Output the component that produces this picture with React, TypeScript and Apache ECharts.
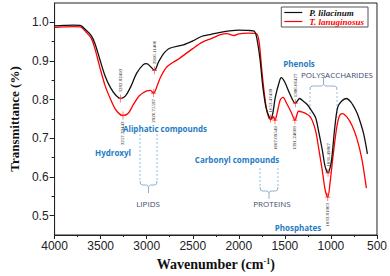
import React, { useEffect, useRef } from "react";
import * as echarts from "echarts";

const wnP = [4000,3900,3800,3720,3660,3600,3560,3510,3450,3390,3330,3282,3230,3170,3110,3040,3000,2960,2916,2870,2820,2750,2600,2500,2400,2300,2200,2100,2000,1900,1840,1810,1770,1740,1705,1670,1653,1630,1604,1562,1540,1500,1448,1386,1340,1300,1260,1220,1167,1135,1094,1062,1031,1005,990,958,927,885,833,781,729,698,646,604];
const trP = [0.991,0.992,0.993,0.992,0.98,0.965,0.944,0.905,0.86,0.83,0.81,0.803,0.81,0.835,0.868,0.89,0.893,0.886,0.876,0.898,0.918,0.933,0.942,0.952,0.964,0.969,0.974,0.978,0.98,0.979,0.978,0.965,0.905,0.835,0.78,0.755,0.751,0.766,0.806,0.845,0.857,0.845,0.816,0.791,0.803,0.796,0.788,0.775,0.754,0.72,0.67,0.626,0.611,0.628,0.65,0.728,0.78,0.796,0.803,0.793,0.772,0.754,0.713,0.66];

const wnT = [4000,3900,3800,3720,3660,3600,3560,3510,3450,3390,3330,3257,3200,3150,3080,3000,2960,2926,2880,2850,2780,2650,2500,2400,2300,2200,2130,2050,2000,1900,1810,1780,1750,1720,1690,1653,1625,1607,1580,1550,1520,1480,1430,1391,1350,1310,1271,1219,1167,1135,1094,1062,1034,1010,979,937,906,875,823,771,719,667,615];
const trT = [0.987,0.988,0.989,0.988,0.975,0.958,0.93,0.885,0.835,0.8,0.772,0.759,0.765,0.785,0.81,0.823,0.824,0.817,0.84,0.858,0.885,0.906,0.932,0.948,0.958,0.968,0.971,0.966,0.97,0.972,0.971,0.95,0.875,0.81,0.765,0.748,0.756,0.747,0.77,0.8,0.806,0.79,0.767,0.747,0.77,0.768,0.764,0.754,0.72,0.677,0.617,0.566,0.548,0.584,0.65,0.728,0.759,0.764,0.754,0.733,0.70,0.65,0.571];

const peakWnP = [3282.82493, 2916.11406, 1653.47439, 1386.66477, 1031.49867];
const peakTrP = [0.803, 0.876, 0.751, 0.791, 0.611];
const peakWnT = [3257.29443, 2926.75597, 1607.09549, 1391.24668, 1033.81963];
const peakTrT = [0.759, 0.817, 0.747, 0.747, 0.548];

const seriesNames = ["P. lilacinum", "T. lanuginosus"];
const xTicks = [4000, 3500, 3000, 2500, 2000, 1500, 1000, 500];
const yTicks = [0.5, 0.6, 0.7, 0.8, 0.9, 1.0];
const yMinorTicks = [0.55, 0.65, 0.75, 0.85, 0.95];

const BLUE = "#1f7cc4";
const SLATE = "#3d4b6b";
const DASH = "#8cc4e4";
const BRACE = "#8fb0cc";

const plusSymbol = "path://M4,0h1v9h-1z M0,4h9v1h-9z";

function peakPoints(wn: number[], tr: number[], above: boolean) {
  return wn.map((w, i) => ({
    coord: [w, tr[i]],
    name: w.toFixed(5),
    label: {
      show: true,
      formatter: "{b}",
      position: above ? "top" : "bottom",
      distance: 2,
      rotate: 90,
      align: above ? "left" : "right",
      verticalAlign: "middle",
      fontSize: 5,
      fontFamily: "Liberation Serif",
      color: "#222",
    },
  }));
}

function brace(x1: number, x2: number, yTop: number, yBottom: number, down: boolean) {
  const mid = (x1 + x2) / 2;
  const s = down ? 1 : -1;
  const yb = down ? yBottom : yTop;
  const yDash0 = down ? yTop : yBottom;
  const yDashEnd = yb - s * 4;
  const els: any[] = [
    { type: "line", shape: { x1, y1: yDash0, x2: x1, y2: yDashEnd }, style: { stroke: DASH, lineWidth: 1, lineDash: [2, 2] } },
    { type: "line", shape: { x1: x2, y1: yDash0, x2: x2, y2: yDashEnd }, style: { stroke: DASH, lineWidth: 1, lineDash: [2, 2] } },
    {
      type: "polyline",
      shape: {
        points: [
          [x1, yDashEnd], [x1 + 0.5, yb - s * 1], [x1 + 2.5, yb],
          [mid - 2, yb], [mid, yb + s * 1.5], [mid + 2, yb],
          [x2 - 2.5, yb], [x2 - 0.5, yb - s * 1], [x2, yDashEnd],
        ],
      },
      style: { stroke: BRACE, lineWidth: 1, fill: null },
    },
    { type: "line", shape: { x1: mid, y1: yb + s * 1.5, x2: mid, y2: yb + s * 8 }, style: { stroke: BRACE, lineWidth: 1 } },
  ];
  return els;
}

function label(text: string, x: number, y: number, color: string, bold: boolean) {
  return {
    type: "text",
    x,
    y,
    style: {
      text,
      fill: color,
      font: `${bold ? "bold " : ""}8px "Open Sans", "Liberation Sans", sans-serif`,
      textAlign: "center",
      textVerticalAlign: "middle",
    },
  };
}

export default function App() {
  const ref = useRef<HTMLDivElement>(null);
  useEffect(() => {
    if (!ref.current) return;
    const chart = echarts.init(ref.current, null, { renderer: "svg" });
    const dataP = wnP.map((w, i) => [w, trP[i]]);
    const dataT = wnT.map((w, i) => [w, trT[i]]);
    const axisFont = { fontFamily: "Liberation Sans", fontSize: 12, color: "#222" };
    chart.setOption({
      animation: false,
      backgroundColor: "#fff",
      grid: { left: 43, right: 11, top: 3, bottom: 40, show: true, borderColor: "#222", borderWidth: 1 },
      legend: {
        orient: "vertical",
        right: 22,
        top: 7,
        padding: [1, 4, 1, 3],
        itemGap: 0,
        itemWidth: 18,
        itemHeight: 10,
        icon: "path://M0,4.5h18v1.2h-18z",
        borderColor: "#555",
        borderWidth: 1,
        data: [
          { name: seriesNames[0], textStyle: { color: "#111" } },
          { name: seriesNames[1], textStyle: { color: "#f00" } },
        ],
        textStyle: { fontFamily: "Liberation Serif", fontStyle: "italic", fontWeight: "bold", fontSize: 9, padding: [0, 0, 0, 2] },
      },
      xAxis: {
        type: "value",
        inverse: true,
        min: 500,
        max: 4000,
        interval: 500,
        name: "Wavenumber (cm{sup|-1})",
        nameLocation: "middle",
        nameGap: 22,
        nameTextStyle: {
          fontFamily: "Liberation Serif",
          fontWeight: "bold",
          fontSize: 14,
          color: "#111",
          rich: { sup: { fontFamily: "Liberation Serif", fontWeight: "bold", fontSize: 8, verticalAlign: "top", padding: [0, 0, 6, 0], color: "#111" } },
        },
        axisLine: { show: true, lineStyle: { color: "#222" } },
        axisTick: { show: true, length: 4, inside: false, lineStyle: { color: "#222" } },
        minorTick: { show: true, splitNumber: 2, length: 2, lineStyle: { color: "#222" } },
        axisLabel: { ...axisFont, margin: 5, customValues: xTicks, formatter: (v: number) => String(v) },
        splitLine: { show: false },
      },
      yAxis: [
        {
          type: "value",
          min: 0.45,
          max: 1.05,
          name: "Transmittance (%)",
          nameLocation: "middle",
          nameGap: 28,
          nameTextStyle: { fontFamily: "Liberation Serif", fontWeight: "bold", fontSize: 13, color: "#111" },
          axisLine: { show: true, lineStyle: { color: "#222" } },
          axisTick: { show: true, length: 5, customValues: yTicks, lineStyle: { color: "#222" } },
          axisLabel: { ...axisFont, margin: 6, customValues: yTicks, formatter: (v: number) => v.toFixed(1) },
          splitLine: { show: false },
        },
        {
          type: "value",
          min: 0.45,
          max: 1.05,
          position: "left",
          axisLine: { show: false },
          axisTick: { show: true, length: 3, customValues: yMinorTicks, lineStyle: { color: "#222" } },
          axisLabel: { show: false },
          splitLine: { show: false },
        },
      ],
      series: [
        {
          name: seriesNames[0],
          type: "line",
          data: dataP,
          smooth: 0.3,
          symbol: "none",
          lineStyle: { color: "#111", width: 1.3 },
          itemStyle: { color: "#111" },
          z: 3,
          markPoint: {
            symbol: plusSymbol,
            symbolSize: [5, 8],
            itemStyle: { color: "#f22" },
            data: peakPoints(peakWnP, peakTrP, true),
          },
        },
        {
          name: seriesNames[1],
          type: "line",
          data: dataT,
          smooth: 0.3,
          symbol: "none",
          lineStyle: { color: "#f00", width: 1.3 },
          itemStyle: { color: "#f00" },
          z: 2,
          markPoint: {
            symbol: plusSymbol,
            symbolSize: [5, 8],
            itemStyle: { color: "#f22" },
            data: peakPoints(peakWnT, peakTrT, false),
          },
        },
      ],
      graphic: [
        ...brace(140, 157, 134, 185, true),
        ...brace(260, 278, 168, 191, true),
        ...brace(310, 337, 86, 118, false),
        label("Hydroxyl", 113, 152, BLUE, true),
        label("Aliphatic compounds", 165, 128, BLUE, true),
        label("Carbonyl compounds", 237, 159, BLUE, true),
        label("Phenols", 299, 63, BLUE, true),
        label("Phosphates", 298, 227, BLUE, true),
        label("LIPIDS", 148, 203, SLATE, false),
        label("PROTEINS", 272, 203, SLATE, false),
        label("POLYSACCHARIDES", 337, 74, SLATE, false),
      ],
    });
    return () => chart.dispose();
  }, []);
  return <div ref={ref} style={{ position: "fixed", left: 0, top: 0, width: 390, height: 276 }} />;
}
